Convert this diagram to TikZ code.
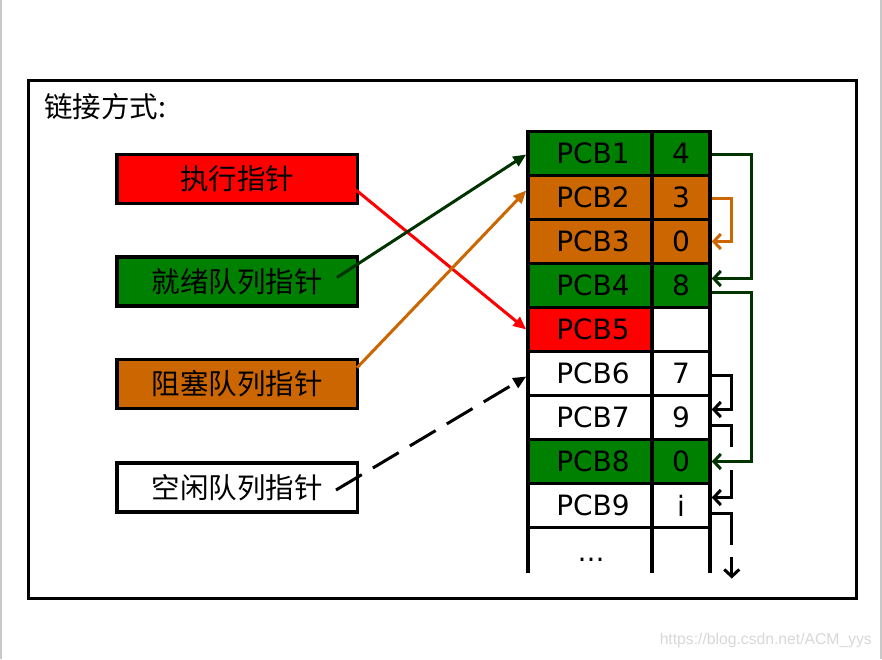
\documentclass[tikz,border=0pt]{standalone}
\usepackage{fontspec}
\newfontfamily\cjkfont{Noto Sans CJK SC}
\newfontfamily\dvfont{DejaVu Sans}
\newfontfamily\wmfont{Liberation Sans}
\usetikzlibrary{arrows.meta,calc}
\definecolor{pgreen}{HTML}{008000}
\definecolor{porange}{HTML}{CC6600}
\definecolor{pred}{HTML}{FF0000}
\definecolor{dkgreen}{HTML}{003300}
\definecolor{edgegray}{HTML}{C8C8C8}
\definecolor{wmgray}{HTML}{D8D8D8}
\begin{document}
\begin{tikzpicture}[x=1pt,y=-1pt,
  lbox/.style={draw, line width=3.5pt, minimum width=240.5pt, minimum height=49pt, inner sep=0pt, font=\cjkfont\fontsize{28.5}{30}\selectfont},
  cell/.style={draw, line width=3.5pt, minimum height=44pt, inner sep=0pt, font=\dvfont\fontsize{28}{30}\selectfont},
  lcell/.style={cell, minimum width=124pt},
  rcell/.style={cell, minimum width=58pt},
  diag/.style={line width=3pt, -{Triangle[length=13pt,width=11pt]}},
  link/.style={line width=3pt, -{Straight Barb[length=7pt,width=15pt]}},
  tline/.style={line width=3.5pt}
]
\useasboundingbox (0,0) rectangle (882,659);
\fill[white] (0,0) rectangle (882,659);
% page edges
\draw[edgegray, line width=1.5pt] (1,0) -- (1,659);
\draw[edgegray, line width=1.5pt] (881,0) -- (881,659);
% outer frame
\draw[line width=3.5pt] (28.5,80.5) rectangle (856.5,598.5);
\node[anchor=west, font=\cjkfont\fontsize{28.5}{30}\selectfont, inner sep=0pt] (title) at (44,107) {链接方式:};

% left pointer boxes
\node[lbox, fill=pred] (exec) at (237,179) {执行指针};
\node[lbox, fill=pgreen] (ready) at (237,281.5) {就绪队列指针};
\node[lbox, fill=porange] (block) at (237,384) {阻塞队列指针};
\node[lbox, fill=white] (free) at (237,487.5) {空闲队列指针};

% PCB table
\foreach \i/\num/\lc/\rc in {1/4/pgreen/pgreen, 2/3/porange/porange, 3/0/porange/porange, 4/8/pgreen/pgreen, 5/{}/pred/white, 6/7/white/white, 7/9/white/white, 8/0/pgreen/pgreen, 9/i/white/white}{
  \node[lcell, fill=\lc] (p\i) at (590, 109.5+44*\i) {\hspace*{6pt}PCB\i};
  \node[rcell, fill=\rc] (n\i) at (681, 109.5+44*\i) {\num};
}
\draw[tline] (528,527.5) -- (528,573);
\draw[tline] (652,527.5) -- (652,573);
\draw[tline] (710,527.5) -- (710,573);
\node[font=\dvfont\fontsize{27}{30}\selectfont, anchor=base, inner sep=0pt] (dots) at (591,561) {…};

% diagonal pointers
\draw[diag, pred] ($(exec.east)+(-3,11)$) -- (p5.west);
\draw[diag, dkgreen] ($(ready.center)+(100,-4)$) -- ($(p1.west)+(0,1)$);
\draw[diag, porange] ($(block.north east)+(-2,10)$) -- ($(p2.west)+(0,-7)$);
\draw[diag, dash pattern=on 30pt off 13pt] ($(free.center)+(99,2.5)$) -- ($(p6.west)+(0,3)$);

% right-side links
\draw[link, dkgreen] ($(n1.east)+(0,1)$) -- ($(n1.east)+(40,1)$) |- ($(n4.east)+(0,-7)$);
\draw[link, porange] ($(n2.east)+(0,0.5)$) -- ($(n2.east)+(20,0.5)$) |- (n3.east);
\draw[link, dkgreen] ($(n4.east)+(0,7)$) -- ($(n4.east)+(40,7)$) |- (n8.east);
\draw[link] ($(n6.east)+(0,1.5)$) -- ($(n6.east)+(20,1.5)$) |- ($(n7.east)+(0,-8)$);
\draw[line width=3pt] ($(n7.east)+(0,8)$) -- ($(n7.east)+(20,8)$) -- ($(n7.east)+(20,29.5)$);
\draw[link] ($(n8.east)+(20,8.5)$) |- ($(n9.east)+(0,-8)$);
\draw[line width=3pt] ($(n9.east)+(0,7.5)$) -- ($(n9.east)+(20,7.5)$) -- ($(n9.east)+(20,39.5)$);
\draw[link] ($(n9.east)+(20,51)$) -- ($(n9.east)+(20,73)$);

% watermark
\node[anchor=east, font=\wmfont\fontsize{15.7}{18}\selectfont, text=wmgray, inner sep=0pt] (wm) at (872,640) {https://blog.csdn.net/ACM\_yys};
\end{tikzpicture}
\end{document}
